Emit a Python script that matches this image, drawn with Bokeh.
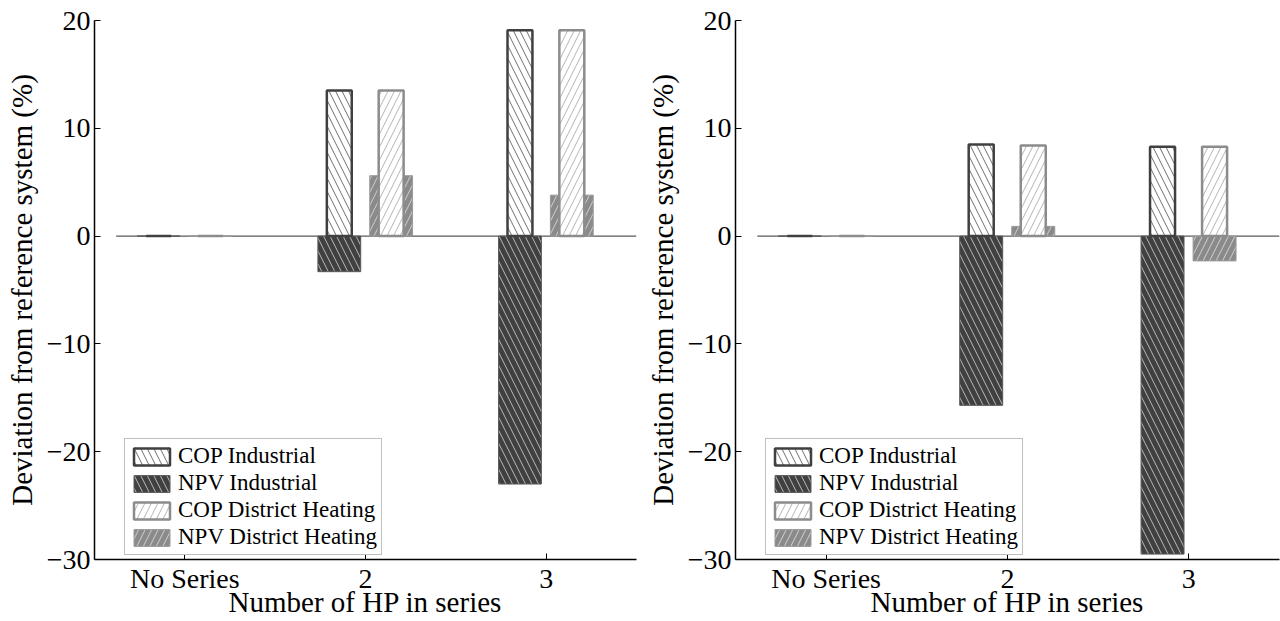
from bokeh.plotting import figure
from bokeh.layouts import row
from bokeh.models import Range1d, FixedTicker, Legend, LegendItem
from bokeh.embed import file_html
from bokeh.resources import INLINE

# ---------------- data ----------------
categories = ["No Series", "2", "3"]
cat_pos = [1, 2, 3]
y_ticks = [-30, -20, -10, 0, 10, 20]
y_tick_labels = ["\u221230", "\u221220", "\u221210", "0", "10", "20"]

# left panel
left_cop_industrial = [0.0, 13.5, 19.1]
left_npv_industrial = [0.0, -3.3, -23.0]
left_cop_district = [0.0, 13.5, 19.1]
left_npv_district = [0.0, 5.6, 3.8]

# right panel
right_cop_industrial = [0.0, 8.5, 8.3]
right_npv_industrial = [0.0, -15.7, -29.5]
right_cop_district = [0.0, 8.4, 8.3]
right_npv_district = [0.0, 0.9, -2.3]

series_names = ["COP Industrial", "NPV Industrial", "COP District Heating", "NPV District Heating"]

X_LABEL = "Number of HP in series"
Y_LABEL = "Deviation from reference system (%)"
BASELINE_X = [0.62, 3.5]

FONT = "'Liberation Serif', 'Times New Roman', serif"
DARK = "#404040"
MID = "#8a8a8a"


def make_panel(cop_ind, npv_ind, cop_dh, npv_dh, top_border, bottom_border, left_border, right_border):
    p = figure(width=640, height=621, output_backend="svg", toolbar_location=None,
               x_range=Range1d(0.5, 3.5), y_range=Range1d(-30, 20),
               min_border_left=left_border, min_border_right=right_border,
               min_border_top=top_border, min_border_bottom=bottom_border)
    p.outline_line_color = None
    p.xgrid.visible = False
    p.ygrid.visible = False
    p.background_fill_color = "white"
    p.border_fill_color = "white"

    off_ind = -0.145
    off_dh = 0.142
    x_ind = [c + off_ind for c in cat_pos]
    x_dh = [c + off_dh for c in cat_pos]

    # baseline
    p.line(x=BASELINE_X, y=[0, 0], line_color="#303030", line_width=1)

    r_npv_ind = p.vbar(x=x_ind, width=0.237, top=npv_ind, bottom=0,
                       fill_color=DARK, line_color="#5a5a5a", line_width=1,
                       hatch_pattern="\\", hatch_color="#b8b8b8", hatch_scale=13, hatch_weight=1)
    r_npv_dh = p.vbar(x=x_dh, width=0.237, top=npv_dh, bottom=0,
                      fill_color=MID, line_color="#9a9a9a", line_width=1,
                      hatch_pattern="/", hatch_color="#cfcfcf", hatch_scale=13, hatch_weight=1)
    r_cop_ind = p.vbar(x=x_ind, width=0.138, top=cop_ind, bottom=0,
                       fill_color="white", line_color=DARK, line_width=2.5,
                       hatch_pattern="\\", hatch_color="#707070", hatch_scale=13, hatch_weight=1)
    r_cop_dh = p.vbar(x=x_dh, width=0.138, top=cop_dh, bottom=0,
                      fill_color="white", line_color="#8c8c8c", line_width=2.5,
                      hatch_pattern="/", hatch_color="#b4b4b4", hatch_scale=13, hatch_weight=1)

    # axes
    for ax in (p.xaxis[0], p.yaxis[0]):
        ax.axis_line_color = "black"
        ax.axis_line_width = 1.5
        ax.major_tick_line_color = "black"
        ax.major_tick_line_width = 1
        ax.major_tick_out = 0
        ax.major_tick_in = 6
        ax.minor_tick_line_color = None
        ax.major_label_text_font = FONT
        ax.major_label_text_font_size = "28px"
        ax.major_label_text_color = "black"
        ax.axis_label_text_font = FONT
        ax.axis_label_text_font_size = "29px"
        ax.axis_label_text_font_style = "normal"
        ax.axis_label_text_color = "black"

    p.xaxis[0].ticker = FixedTicker(ticks=cat_pos)
    p.xaxis[0].major_label_overrides = {c: l for c, l in zip(cat_pos, categories)}
    p.xaxis[0].axis_label = X_LABEL
    p.xaxis[0].major_label_standoff = 3
    p.xaxis[0].axis_label_standoff = -11

    p.yaxis[0].ticker = FixedTicker(ticks=y_ticks)
    p.yaxis[0].major_label_overrides = {t: l for t, l in zip(y_ticks, y_tick_labels)}
    p.yaxis[0].axis_label = Y_LABEL
    p.yaxis[0].major_label_standoff = 4
    p.yaxis[0].axis_label_standoff = 6

    legend = Legend(items=[
        LegendItem(label=series_names[0], renderers=[r_cop_ind]),
        LegendItem(label=series_names[1], renderers=[r_npv_ind]),
        LegendItem(label=series_names[2], renderers=[r_cop_dh]),
        LegendItem(label=series_names[3], renderers=[r_npv_dh]),
    ], location=(30, 4))
    legend.label_text_font = FONT
    legend.label_text_font_size = "23px"
    legend.label_text_color = "black"
    legend.glyph_width = 45
    legend.glyph_height = 21
    legend.label_height = 21
    legend.spacing = 1
    legend.padding = 4
    legend.margin = 0
    legend.label_standoff = 4
    legend.border_line_color = "#808080"
    legend.border_line_width = 1
    legend.background_fill_color = "white"
    legend.background_fill_alpha = 1
    p.add_layout(legend)
    return p


p_left = make_panel(left_cop_industrial, left_npv_industrial, left_cop_district, left_npv_district,
                    top_border=19, bottom_border=62, left_border=94, right_border=4)
p_right = make_panel(right_cop_industrial, right_npv_industrial, right_cop_district, right_npv_district,
                     top_border=20, bottom_border=59, left_border=95, right_border=1)

layout = row(p_left, p_right)
open("out.html", "w").write(file_html(layout, INLINE))
